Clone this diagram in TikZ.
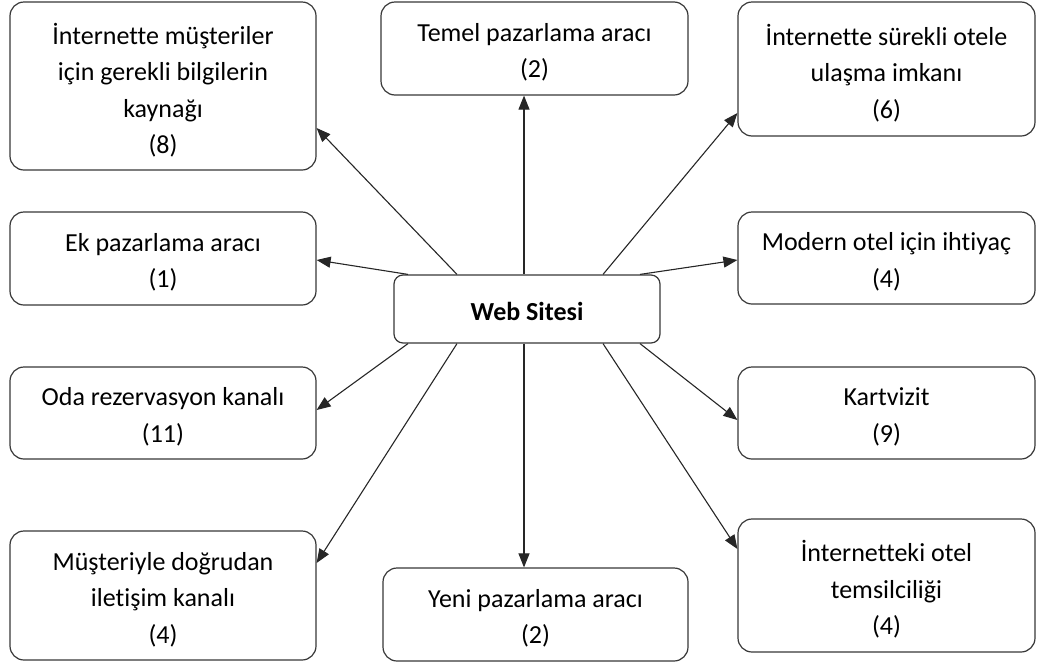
\documentclass[tikz,border=0pt]{standalone}
\usepackage{fontspec}
\setmainfont{Carlito}[Ligatures=NoCommon]
\usetikzlibrary{arrows.meta,calc}
\begin{document}
\begin{tikzpicture}[x=1pt,y=-1pt,
  box/.style={draw=black!78,line width=1.2pt,rounded corners=14pt,fill=white,inner sep=0pt},
  txt/.style={align=center,inner sep=0pt,yshift=-4pt,font=\fontsize{26}{36.5}\selectfont},
  conn/.style={draw=black!85,line width=1.1pt,-{Triangle[length=14pt,width=11pt]}}]
\useasboundingbox (0,0) rectangle (1038,662);
\node[box,minimum width=306pt,minimum height=168pt,
  label={[txt]center:İnternette müşteriler\\için gerekli bilgilerin\\kaynağı\\(8)}] (b1) at (163,86) {};
\node[box,minimum width=307pt,minimum height=93pt,
  label={[txt]center:Temel pazarlama aracı\\(2)}] (b2) at (534.5,48.5) {};
\node[box,minimum width=297pt,minimum height=134pt,
  label={[txt]center:İnternette sürekli otele\\ulaşma imkanı\\(6)}] (b3) at (886.5,69) {};
\node[box,minimum width=306pt,minimum height=93pt,
  label={[txt]center:Ek pazarlama aracı\\(1)}] (b4) at (163,258.5) {};
\node[box,minimum width=297pt,minimum height=92pt,
  label={[txt]center:Modern otel için ihtiyaç\\(4)}] (b6) at (886.5,258) {};
\node[box,minimum width=306pt,minimum height=92pt,
  label={[txt]center:Oda rezervasyon kanalı\\(11)}] (b7) at (163,413) {};
\node[box,minimum width=297pt,minimum height=92pt,
  label={[txt]center:Kartvizit\\(9)}] (b8) at (886.5,413) {};
\node[box,minimum width=306pt,minimum height=129pt,
  label={[txt]center:Müşteriyle doğrudan\\iletişim kanalı\\(4)}] (b9) at (163,595.5) {};
\node[box,minimum width=305pt,minimum height=93pt,
  label={[txt]center:Yeni pazarlama aracı\\(2)}] (b10) at (535.5,614.5) {};
\node[box,minimum width=297pt,minimum height=133pt,
  label={[txt]center:İnternetteki otel\\temsilciliği\\(4)}] (b11) at (886.5,585.5) {};
\node[box,rounded corners=9pt,minimum width=266pt,minimum height=68pt,
  label={[txt,yshift=2pt,font=\fontsize{26}{30}\selectfont\bfseries]center:Web Sitesi}] (web) at (527,309) {};
\draw[conn] ($(web.north)+(-70,0)$) -- ($(b1.east)+(0,42)$);
\draw[conn] ($(web.north)+(-119,0)$) -- ($(b4.east)+(0,1.5)$);
\draw[conn] ($(web.north)+(-3,0)$) -- ($(b2.south)+(-10.5,0)$);
\draw[conn] ($(web.north)+(76,0)$) -- ($(b3.west)+(0,44)$);
\draw[conn] ($(web.north)+(113,0)$) -- ($(b6.west)+(0,2)$);
\draw[conn] ($(web.south)+(-119,0)$) -- ($(b7.east)+(0,-3)$);
\draw[conn] ($(web.south)+(-70,0)$) -- ($(b9.east)+(0,-32.5)$);
\draw[conn] ($(web.south)+(-3,0)$) -- ($(b10.north)+(-11.5,0)$);
\draw[conn] ($(web.south)+(76,0)$) -- ($(b11.west)+(0,-36.5)$);
\draw[conn] ($(web.south)+(113,0)$) -- ($(b8.west)+(0,7)$);
\end{tikzpicture}
\end{document}
